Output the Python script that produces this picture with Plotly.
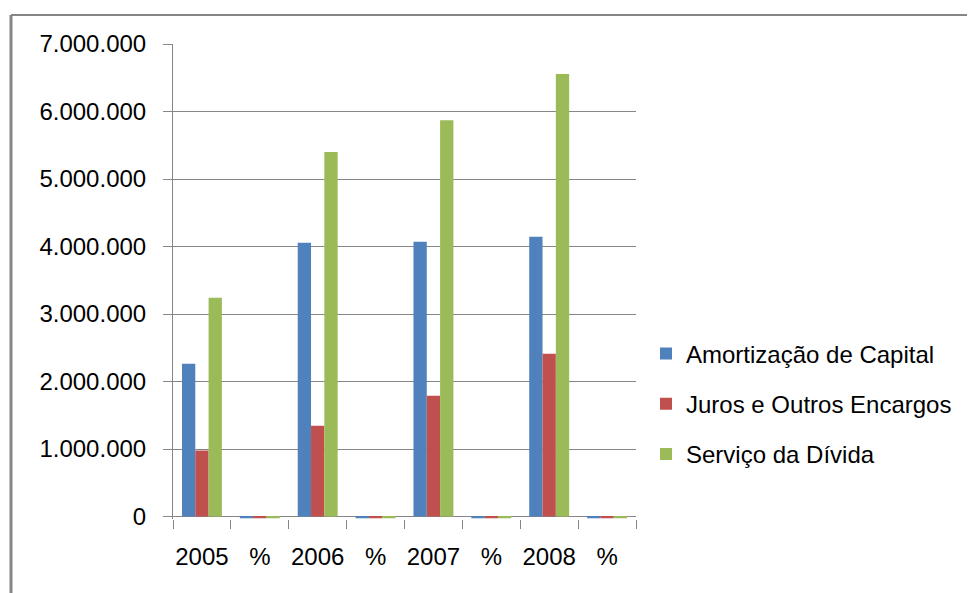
import plotly.graph_objects as go

categories = ["2005", "%", "2006", "%\u200b", "2007", "%\u200b\u200b", "2008", "%\u200b\u200b\u200b"]
amortizacao = [2264000, -25000, 4055000, -25000, 4070000, -25000, 4144000, -25000]
juros = [977000, -25000, 1347000, -25000, 1790000, -25000, 2412000, -25000]
servico = [3241000, -25000, 5402000, -25000, 5870000, -25000, 6556000, -25000]
tick_vals = [0, 1000000, 2000000, 3000000, 4000000, 5000000, 6000000, 7000000]
tick_text = ["0", "1.000.000", "2.000.000", "3.000.000", "4.000.000", "5.000.000", "6.000.000", "7.000.000"]

series = [
    ("Amortização de Capital", amortizacao, "#4F81BD"),
    ("Juros e Outros Encargos", juros, "#C0504D"),
    ("Serviço da Dívida", servico, "#9BBB59"),
]

fig = go.Figure()
for i, (name, vals, col) in enumerate(series):
    fig.add_trace(go.Bar(x=categories, y=vals, name=name, marker_color=col,
                         marker_line_width=0, legendgroup=str(i)))

# page offset (browser body margin) compensation
o = 7
W, H = 975, 593
L = 172 - o
T = 43 - o
R = W - (635 - o)
B = 75 + o
pw = W - L - R
ph = H - T - B

def py(y):  # screen y -> paper y
    return (H - B - (y - o)) / ph

def px(x):  # screen x -> paper x
    return ((x - o) - L) / pw

fig.update_layout(
    width=W, height=H,
    margin=dict(l=L, r=R, t=T, b=B, pad=0, autoexpand=False),
    paper_bgcolor="white", plot_bgcolor="white",
    barmode="group", bargap=0.31, bargroupgap=0,
    font=dict(family="Liberation Sans, Arial, sans-serif", size=24, color="#000000"),
    showlegend=True,
    legend=dict(x=px(645), xanchor="left", y=py(403), yanchor="middle",
                font=dict(size=24), tracegroupgap=16, bgcolor="rgba(0,0,0,0)",
                itemwidth=30),
    xaxis=dict(type="category", showgrid=False, showline=False, zeroline=False,
               automargin=False, tickangle=0,
               ticks="outside", tickson="boundaries", ticklen=9, tickcolor="#868686",
               tickwidth=1, ticklabelstandoff=21),
    yaxis=dict(range=[-36000, 7000000], tickvals=tick_vals, ticktext=tick_text,
               automargin=False,
               showgrid=True, gridcolor="#868686", gridwidth=1,
               zeroline=True, zerolinecolor="#868686", zerolinewidth=1,
               showline=True, linecolor="#868686", linewidth=1,
               ticks="outside", ticklen=9, tickcolor="#868686", ticklabelstandoff=12),
    shapes=[
        dict(type="line", xref="paper", yref="paper",
             x0=px(10), x1=px(985), y0=py(14), y1=py(14),
             line=dict(color="#868686", width=2)),
        dict(type="line", xref="paper", yref="paper",
             x0=px(10), x1=px(10), y0=py(14), y1=py(610),
             line=dict(color="#868686", width=3)),
    ],
)

fig.write_html("out.html")
